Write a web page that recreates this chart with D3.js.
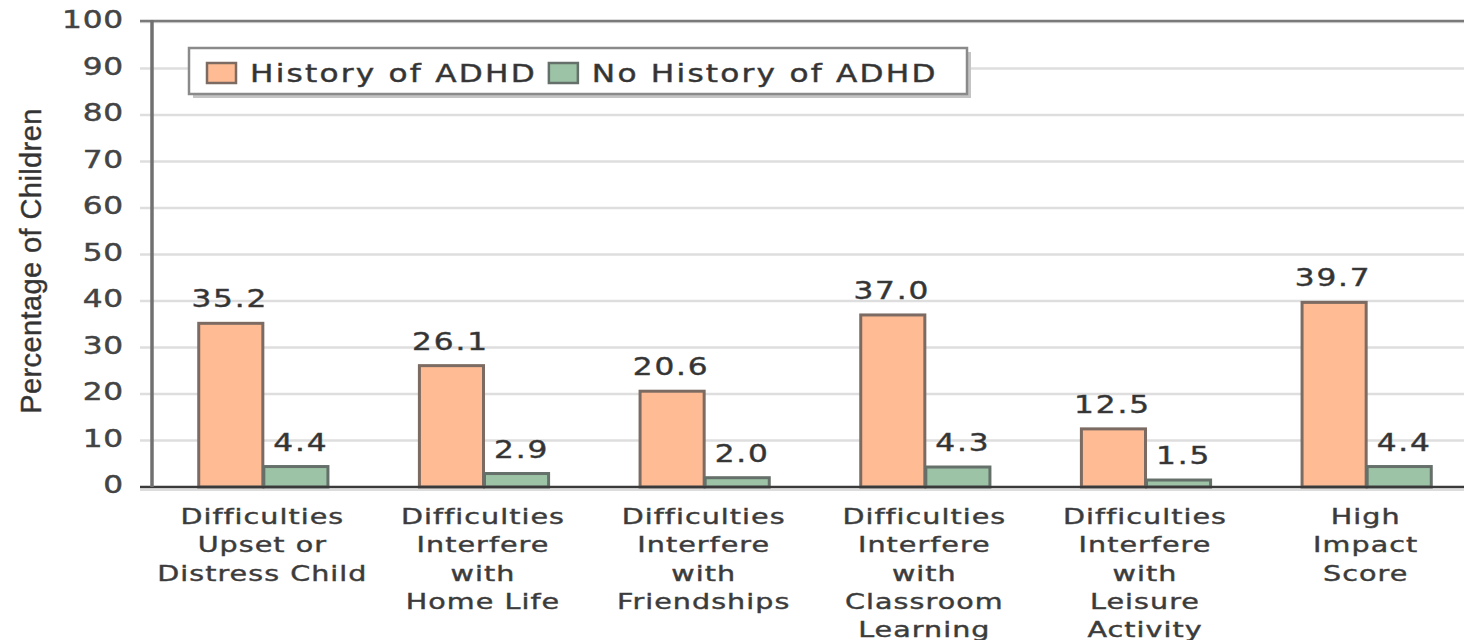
<!DOCTYPE html>
<html>
<head>
<meta charset="utf-8">
<script src="https://cdn.jsdelivr.net/npm/d3@7"></script>
<style>
  body { margin: 0; background: #fff; }
  text { font-family: "DejaVu Sans", Verdana, sans-serif; fill: #333; stroke: #444; stroke-width: 0.45px; }
</style>
</head>
<body>
<svg id="chart" width="1464" height="640"></svg>
<script>
var categories = [
    ["Difficulties", "Upset or", "Distress Child"],
    ["Difficulties", "Interfere", "with", "Home Life"],
    ["Difficulties", "Interfere", "with", "Friendships"],
    ["Difficulties", "Interfere", "with", "Classroom", "Learning"],
    ["Difficulties", "Interfere", "with", "Leisure", "Activity"],
    ["High", "Impact", "Score"]
];
var seriesNames = ["History of ADHD", "No History of ADHD"];
var historyValues = [35.2, 26.1, 20.6, 37.0, 12.5, 39.7];
var noHistoryValues = [4.4, 2.9, 2.0, 4.3, 1.5, 4.4];
var yTicks = [0, 10, 20, 30, 40, 50, 60, 70, 80, 90, 100];

var fills = ["#ffbb93", "#9cc3a6"],
    strokes = ["#7c6b62", "#66706a"];
var SX = 1.3; // glyphs in the picture are wider than tall

var svg = d3.select("#chart");
var plotLeft = 152, plotRight = 1476, plotTop = 22, plotBottom = 487;

var y = d3.scaleLinear().domain([0, 100]).range([plotBottom, plotTop]);
var x0 = d3.scaleBand()
    .domain(d3.range(categories.length))
    .range([plotLeft, plotRight])
    .paddingInner(0.41)
    .paddingOuter(0.205);
var x1 = d3.scaleBand()
    .domain(d3.range(seriesNames.length))
    .range([0, x0.bandwidth()]);

// text helper: wide glyphs via horizontal scale
function wideText(parent, tx, ty, str, size, anchor, ls) {
    var g = parent.append("g").attr("transform", "translate(" + tx + "," + ty + ")");
    g.append("text")
        .attr("transform", "scale(" + SX + ",1)")
        .attr("text-anchor", anchor || "start")
        .style("font-size", size + "px")
        .style("letter-spacing", (ls === undefined ? 1 : ls) + "px")
        .text(str);
    return g;
}

// gridlines + tick stubs
svg.append("g").selectAll("line")
    .data(yTicks.slice(1))
    .enter().append("line")
    .attr("x1", 140).attr("x2", 1464)
    .attr("y1", function (d) { return y(d); })
    .attr("y2", function (d) { return y(d); })
    .attr("stroke", "#dedede")
    .attr("stroke-width", 2.5);

// top border
svg.append("line").attr("x1", 140).attr("x2", 1464).attr("y1", plotTop - 1).attr("y2", plotTop - 1)
    .attr("stroke", "#7a7a7a").attr("stroke-width", 2.5);

// y tick labels
yTicks.forEach(function (t) {
    wideText(svg, 124, y(t) + 6, t, 24, "end", 0.6).select("text").style("fill", "#444");
});

// y title
svg.append("text")
    .attr("transform", "translate(41," + 261 + ") rotate(-90)")
    .attr("text-anchor", "middle")
    .style("font-family", "'Liberation Sans', Arial, sans-serif")
    .style("font-size", "29px")
    .style("letter-spacing", "0.4px")
    .style("fill", "#333")
    .text("Percentage of Children");

// bars
var series = [historyValues, noHistoryValues];
var groups = svg.append("g").selectAll("g")
    .data(categories)
    .enter().append("g")
    .attr("transform", function (d, i) { return "translate(" + x0(i) + ",0)"; });

groups.selectAll("rect")
    .data(function (d, i) { return series.map(function (s, k) { return { k: k, v: s[i] }; }); })
    .enter().append("rect")
    .attr("x", function (d) { return x1(d.k) + 1.5; })
    .attr("width", x1.bandwidth() - 1)
    .attr("y", function (d) { return y(d.v); })
    .attr("height", function (d) { return plotBottom - y(d.v); })
    .attr("fill", function (d) { return fills[d.k]; })
    .attr("stroke", function (d) { return strokes[d.k]; })
    .attr("stroke-width", 3);

// value labels
groups.each(function (c, i) {
    var g = d3.select(this);
    series.forEach(function (s, k) {
        wideText(g, x1(k) + x1.bandwidth() / 2 + (k ? 6 : 0), y(s[i]) - 16,
            s[i].toFixed(1), 24, "middle", 1.4);
    });
});

// axes lines
svg.append("line").attr("x1", 140).attr("x2", 1464).attr("y1", plotBottom + 3).attr("y2", plotBottom + 3)
    .attr("stroke", "#dcdcdc").attr("stroke-width", 2);
svg.append("line").attr("x1", 140).attr("x2", 1464).attr("y1", plotBottom).attr("y2", plotBottom)
    .attr("stroke", "#3a3a3a").attr("stroke-width", 2.5);
svg.append("line").attr("x1", plotLeft).attr("x2", plotLeft).attr("y1", plotTop - 2).attr("y2", plotBottom)
    .attr("stroke", "#707070").attr("stroke-width", 3.5);

// category labels
categories.forEach(function (lines, i) {
    var cx = x0(i) + x0.bandwidth() / 2;
    lines.forEach(function (ln, j) {
        wideText(svg, cx, 524 + j * 28.3, ln, 22, "middle", 0.8).select("text").style("fill", "#3a3a3a");
    });
});

// legend
var legend = svg.append("g");
legend.append("rect").attr("x", 193).attr("y", 52).attr("width", 778).attr("height", 46).attr("fill", "#c4c4c4");
legend.append("rect").attr("x", 189).attr("y", 48).attr("width", 778).attr("height", 46)
    .attr("fill", "#fff").attr("stroke", "#8a8a8a").attr("stroke-width", 2.5);
var lx = 207;
seriesNames.forEach(function (name, k) {
    legend.append("rect").attr("x", lx).attr("y", 63).attr("width", 29).attr("height", 20)
        .attr("fill", fills[k]).attr("stroke", strokes[k]).attr("stroke-width", 2.5);
    var t = wideText(legend, lx + 43, 82, name, 24, "start", 1.7);
    lx = lx + 43 + t.select("text").node().getComputedTextLength() * SX + 12;
});
</script>
</body>
</html>
